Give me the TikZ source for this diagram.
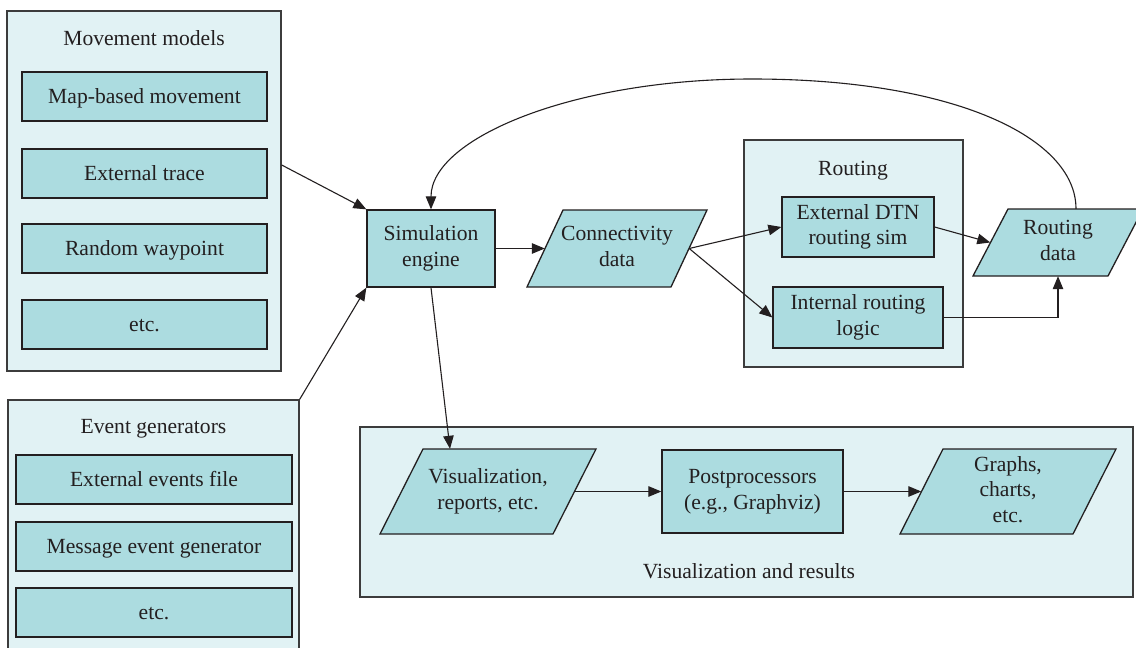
\documentclass[tikz,border=0pt]{standalone}
\usepackage{fontspec}
\setmainfont{Liberation Serif}
\usetikzlibrary{arrows.meta,calc}
\definecolor{panelfill}{HTML}{E1F2F4}
\definecolor{boxfill}{HTML}{ACDCE0}
\definecolor{ink}{HTML}{231F20}
\definecolor{panelline}{HTML}{3C3C3C}
\newcommand\figfont{\fontsize{21.6}{25.5}\selectfont}
\newcommand\pslant{36}
\tikzset{
  panel/.style={draw=panelline, fill=panelfill, line width=1.4pt, inner sep=0pt},
  boxn/.style={draw=ink, fill=boxfill, line width=1.3pt, inner sep=0pt, align=center,
               text=ink, font=\figfont, text depth=4.6pt},
  oneline/.style={text height=14pt, text depth=0pt},
  titletext/.style={text=ink, font=\figfont, inner sep=0pt, text height=14pt, text depth=0pt},
  pslant/.code={\def\pslant{#1}},
  para/.style={rectangle, inner sep=0pt, align=center, text=ink, font=\figfont,
    text depth=4.6pt,
    path picture={
      \path[fill=boxfill, draw=ink, line width=1.3pt]
        ([shift={(1pt,1pt)}]path picture bounding box.south west)
        -- ([shift={({-(1+\pslant)*1pt},1pt)}]path picture bounding box.south east)
        -- ([shift={(-1pt,-1pt)}]path picture bounding box.north east)
        -- ([shift={({(1+\pslant)*1pt},-1pt)}]path picture bounding box.north west)
        -- cycle;}},
  arrowc/.style={draw=ink, line width=1.1pt, -{Triangle[length=13pt,width=10.5pt]}},
}
\begin{document}
\begin{tikzpicture}[x=1pt,y=-1pt]
\useasboundingbox (0,0) rectangle (1136,648);
\fill[white] (0,0) rectangle (1136,648);

% Movement models panel
\node[panel, minimum width=274, minimum height=360] (mm) at (144,191) {};
\node[titletext] (mmt) at (144,38) {Movement models};
\node[boxn, oneline, minimum width=245, minimum height=49] (mm1) at (144.5,96.5) {Map-based movement};
\node[boxn, oneline, minimum width=245, minimum height=49] (mm2) at (144.5,173.5) {External trace};
\node[boxn, oneline, minimum width=245, minimum height=49] (mm3) at (144.5,248.5) {Random waypoint};
\node[boxn, oneline, minimum width=245, minimum height=49] (mm4) at (144.5,324.5) {etc.};

% Event generators panel
\node[panel, minimum width=291, minimum height=260] (ev) at (153.5,530) {};
\node[titletext] (evt) at (153.5,426) {Event generators};
\node[boxn, oneline, minimum width=276, minimum height=49] (ev1) at (154,479.5) {External events file};
\node[boxn, oneline, minimum width=276, minimum height=49] (ev2) at (154,546.5) {Message event generator};
\node[boxn, oneline, minimum width=276, minimum height=49] (ev3) at (154,612.5) {etc.};

% Routing panel
\node[panel, minimum width=219, minimum height=227] (rp) at (853.5,253.5) {};
\node[titletext] (rpt) at (853,168) {Routing};
\node[boxn, minimum width=152, minimum height=60] (ext) at (858,227) {External DTN\\routing sim};
\node[boxn, minimum width=170, minimum height=61] (int) at (858,317.5) {Internal routing\\logic};

% Visualization panel
\node[panel, minimum width=773, minimum height=170] (vp) at (746.5,512) {};
\node[titletext] (vpt) at (749,571) {Visualization and results};

% Simulation engine and data
\node[boxn, minimum width=128, minimum height=77] (sim) at (431,248.5) {Simulation\\engine};
\node[para, pslant=36, minimum width=182, minimum height=79] (conn) at (617,248.5) {Connectivity\\data};
\node[para, pslant=35, minimum width=172, minimum height=69] (rd) at (1058,242.5) {Routing\\data};
\node[para, pslant=43, minimum width=218, minimum height=87] (vis) at (488,491.5) {Visualization,\\reports, etc.};
\node[boxn, minimum width=181, minimum height=83] (post) at (752.5,491.5) {Postprocessors\\(e.g., Graphviz)};
\node[para, pslant=43, minimum width=218, minimum height=87] (gr) at (1008,491.5) {Graphs,\\charts,\\etc.};

% connectors
\draw[arrowc] ([yshift=26pt]mm.east) -- (sim.north west);
\draw[arrowc] (ev.north east) -- (sim.south west);
\draw[arrowc] (sim.east) -- ([xshift=19pt]conn.west);
\draw[arrowc] ([xshift=-19pt]conn.east) -- (ext.west);
\draw[arrowc] ([xshift=-19pt]conn.east) -- (int.west);
\draw[arrowc] (ext.east) -- ([xshift=18.5pt]rd.west);
\draw[arrowc] (int.east) -| ([yshift=1pt]rd.south);
\draw[arrowc] ([xshift=18pt,yshift=-1pt]rd.north) .. controls (1076,138) and (955,79) .. (752,79)
   .. controls (574,79) and (431,138) .. (sim.north);
\draw[arrowc] (sim.south) -- ([xshift=-38pt,yshift=-1pt]vis.north);
\draw[arrowc] ([xshift=-22.5pt]vis.east) -- (post.west);
\draw[arrowc] (post.east) -- ([xshift=22.5pt]gr.west);
\end{tikzpicture}
\end{document}
